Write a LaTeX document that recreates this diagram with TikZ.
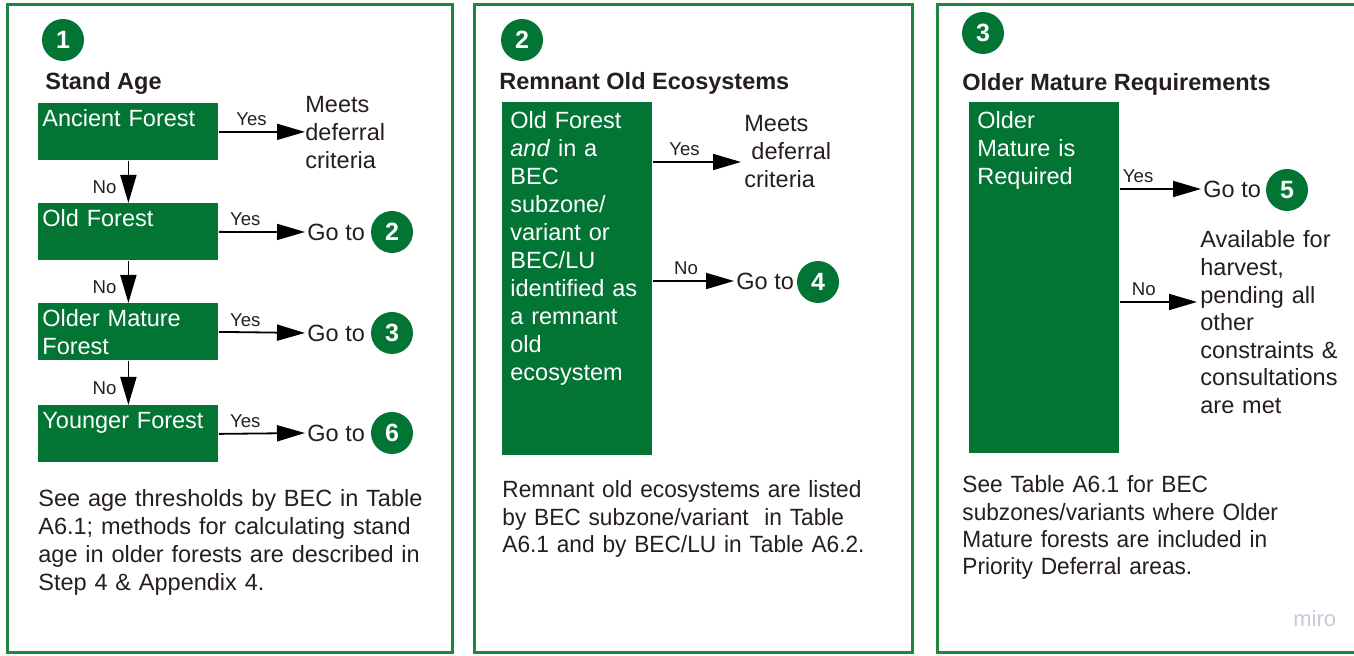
\documentclass[tikz,border=0pt]{standalone}
\usepackage{fontspec}
\setmainfont{Liberation Sans}
\usetikzlibrary{arrows.meta}
\usepackage{xcolor}

\definecolor{bcgreen}{RGB}{2,116,52}
\definecolor{framegreen}{RGB}{28,134,66}
\definecolor{inkdark}{RGB}{38,30,30}
\definecolor{mirogray}{RGB}{200,200,216}

\tikzset{
  panel/.style={draw=framegreen, line width=1.5pt},
  green box/.style={fill=bcgreen, inner sep=0pt, anchor=north west},
  box text/.style={text=white, anchor=base west, inner sep=0pt, text width=#1, align=left},
  box text/.default=85pt,
  body/.style={text=inkdark, anchor=base west, inner sep=0pt, text width=#1, align=left},
  body/.default=215pt,
  narrow/.style={font=\fontsize{11.75}{13.6}\selectfont\addfontfeature{FakeStretch=0.965}},
  heading/.style={text=inkdark, anchor=base west, inner sep=0pt, font=\bfseries\fontsize{11.75}{14}\selectfont},
  step circle/.style={circle, fill=bcgreen, text=white, minimum size=21pt, inner sep=0pt, font=\bfseries\fontsize{12.5}{14}\selectfont},
  go to/.style={text=inkdark, anchor=west, inner sep=0pt},
  answer/.style={text=inkdark, inner sep=1.5pt, font=\fontsize{9.3}{10}\selectfont},
  flow/.style={draw=black, line width=0.9pt, -{Triangle[length=14pt, width=8pt]}},
}

\begin{document}
\begin{tikzpicture}[x=0.5pt, y=-0.5pt, font=\fontsize{11.75}{14}\selectfont]
  \useasboundingbox (0,0) rectangle (1354,656);
  \clip (0,0) rectangle (1354,656);

  % The three panel frames
  \draw [panel] (7,5) rectangle (452,653);
  \draw [panel] (474,5) rectangle (912,653);
  \draw [panel] (937,5) rectangle (1380,653);

  % Panel 1: stand age
  \node [step circle] (head-1) at (63,40) {1};
  \node [heading] (head-1-title) at (45,90) {Stand Age};

  \foreach \l/\y [count=\i] in {{Ancient Forest}/103, {Old Forest}/203, {Older Mature\\Forest}/303, {Younger Forest}/405} {
    \node [green box, minimum width=90pt, minimum height=28.5pt] (age-\i) at (38,\y) {};
    \node [box text] (age-\i-label) at (42,\y+24) {\l};
  }

  \node [body] (meets-1) at (305,113) {Meets\\deferral\\criteria};
  \foreach \s/\y [count=\i from 2] in {2/232, 3/333, 6/433} {
    \node [go to] (goto-\s) at (307,\y) {Go to};
    \node [step circle] (step-\s) at (392,\y) {\s};
  }

  % Yes answers go right
  \draw [flow] (age-1.east) -- (age-1.east -| meets-1.west)
    node [answer, above=1pt, pos=0.38] {Yes};
  \foreach \s [count=\i from 2] in {2,3,6}
    \draw [flow, shorten >=1pt] (age-\i.east) -- (goto-\s.west)
      node [answer, above=1pt, pos=0.3] {Yes};

  % No answers go down
  \foreach \i [evaluate=\i as \j using int(\i+1)] in {1,2,3}
    \draw [flow] (age-\i.south) -- (age-\j.north)
      node [answer, left=4pt, pos=0.62] {No};

  \node [body] (age-note) at (38,507) {See age thresholds by BEC in Table\\A6.1; methods for calculating stand\\age in older forests are described in\\Step 4 \& Appendix 4.};

  % Panel 2: remnant old ecosystems
  \node [step circle] (head-2) at (522,40) {2};
  \node [heading] (head-2-title) at (499,90) {Remnant Old Ecosystems};
  \node [green box, minimum width=75pt, minimum height=176.5pt] (rem-box) at (502,102) {};
  \node [box text=70pt] (rem-box-label) at (510,129) {Old Forest\\\textit{and} in a\\BEC\\subzone/\\variant or\\BEC/LU\\identified as\\a remnant\\old\\ecosystem};

  \node [body] (meets-2) at (744,132) {Meets\\\hspace*{0.3em}deferral\\criteria};
  \coordinate (rem-yes) at (741,162);
  \draw [flow] (rem-box.east |- rem-yes) -- (rem-yes)
    node [answer, above=1pt, pos=0.36] {Yes};

  \node [go to] (goto-4) at (736,281) {Go to};
  \node [step circle] (step-4) at (818,282) {4};
  \draw [flow, shorten >=1pt] (rem-box.east |- goto-4.west) -- (goto-4.west)
    node [answer, above=1pt, pos=0.4] {No};

  \node [body, narrow] (rem-note) at (502,498) {Remnant old ecosystems are listed\\by BEC subzone/variant\ \ in Table\\A6.1 and by BEC/LU in Table A6.2.};

  % Panel 3: older mature requirements
  \node [step circle] (head-3) at (983,33) {3};
  \node [heading] (head-3-title) at (962,91) {Older Mature Requirements};
  \node [green box, minimum width=75pt, minimum height=175.5pt] (old-box) at (969,102) {};
  \node [box text=70pt] (old-box-label) at (977,129) {Older\\Mature is\\Required};

  \node [go to] (goto-5) at (1203,189) {Go to};
  \node [step circle] (step-5) at (1287,190) {5};
  \draw [flow, shorten >=1pt] (old-box.east |- goto-5.west) -- (goto-5.west)
    node [answer, above=1pt, pos=0.22] {Yes};

  \node [body, font=\fontsize{11.75}{13.8}\selectfont] (harvest) at (1200,248) {Available for\\harvest,\\pending all\\other\\constraints \&\\consultations\\are met};
  \coordinate (old-no) at (1197,302);
  \draw [flow] (old-box.east |- old-no) -- (old-no)
    node [answer, above=1pt, pos=0.31] {No};

  \node [body, narrow] (old-note) at (962,493) {See Table A6.1 for BEC\\subzones/variants where Older\\Mature forests are included in\\Priority Deferral areas.};

  \node [anchor=base west, inner sep=0pt, text=mirogray, font=\fontsize{11}{12}\selectfont] (miro) at (1293,627) {miro};
\end{tikzpicture}
\end{document}
